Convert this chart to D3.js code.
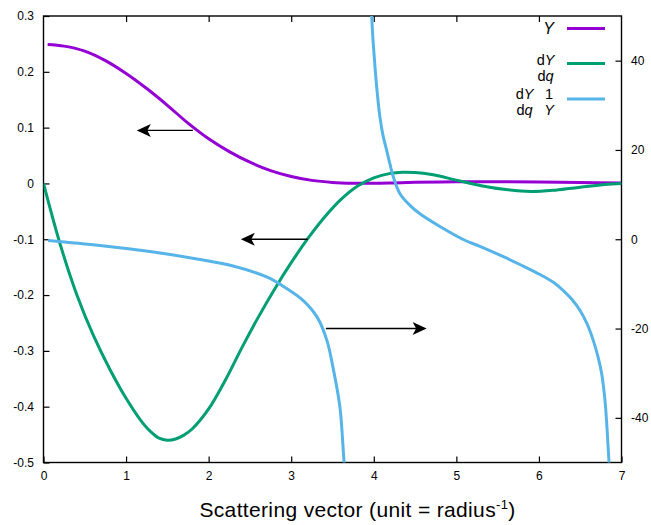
<!DOCTYPE html>
<html><head><meta charset="utf-8">
<script src="https://cdn.jsdelivr.net/npm/d3@7"></script>
<style>
body{margin:0;background:#fff;}
svg{display:block;font-family:"Liberation Sans",Arial,Helvetica,sans-serif;}
</style></head>
<body><svg id="c" width="651" height="525"></svg>
<script>
// ---- data ----
const yQ   = [0.05,0.25,0.5,0.75,1.0,1.25,1.5,1.75,2.0,2.25,2.5,2.75,3.0,3.25,3.5,3.75,4.0,4.25,4.5,5.0,5.5,6.0,6.5,7.0];
const yVal = [0.249,0.246,0.237,0.220,0.197,0.170,0.140,0.108,0.080,0.057,0.038,0.023,0.0125,0.0055,0.0018,0.0003,0.0002,0.001,0.002,0.003,0.003,0.0025,0.0015,0.001];

const dQ   = [0,0.2,0.4,0.6,0.8,1.0,1.2,1.3,1.4,1.5,1.6,1.7,1.8,2.0,2.2,2.4,2.6,2.8,3.0,3.2,3.4,3.6,3.8,4.0,4.2,4.35,4.5,4.7,5.0,5.3,5.6,5.9,6.2,6.5,6.8,7.0];
const dVal = [0,-0.108,-0.198,-0.271,-0.332,-0.385,-0.429,-0.445,-0.4565,-0.460,-0.4578,-0.451,-0.440,-0.404,-0.353,-0.295,-0.240,-0.189,-0.142,-0.099,-0.061,-0.029,-0.005,0.010,0.018,0.020,0.0195,0.016,0.006,-0.004,-0.011,-0.0145,-0.012,-0.007,-0.002,0.0];

// dY/dq * 1/Y (right axis), two branches
const rQ1   = [0.055,0.684,1.29,1.895,2.295,2.71,2.95,3.143,3.316,3.433,3.506,3.59,3.639,3.663];
const rVal1 = [-0.28,-1.4,-2.74,-4.54,-6.0,-8.5,-11.1,-13.7,-17.5,-22.7,-28.7,-37.6,-49.5,-54];
const rQ2   = [3.97,3.975,3.991,4.015,4.045,4.075,4.112,4.156,4.196,4.236,4.317,4.438,4.559,4.801,5.084,5.286,5.569,5.77,6.013,6.195,6.295,6.401,6.498,6.582,6.659,6.715,6.76,6.8,6.821,6.837,6.849,6.855];
const rVal2 = [52,49.9,44.5,38.5,32.2,27.3,23.2,19.9,16.8,14.0,10.2,7.6,5.7,2.85,-0.06,-1.6,-3.9,-5.66,-7.9,-9.9,-11.5,-13.5,-15.96,-18.9,-22.7,-26.3,-30.1,-36.1,-41.3,-46.2,-50,-51.9];

const xTicks  = [0,1,2,3,4,5,6,7];
const yTicks  = [-0.5,-0.4,-0.3,-0.2,-0.1,0,0.1,0.2,0.3];
const y2Ticks = [-40,-20,0,20,40];

// arrows: [x1,y1,x2,y2,axis]
const arrows = [[1.81,0.095,1.13,0.095,"L"],[3.20,-0.1,2.39,-0.1,"L"],[3.42,-20,4.64,-20,"R"]];

const colors = {Y:"#9400d3", dY:"#009e73", r:"#56b4e9"};

// ---- scales ----
const L=43.5,R=621.5,T=16,B=462.5;
const x  = d3.scaleLinear().domain([0,7]).range([L,R]);
const y  = d3.scaleLinear().domain([-0.5,0.3]).range([B,T]);
const y2 = d3.scaleLinear().domain([-50,50]).range([B,T]);

const svg = d3.select("#c");
svg.append("defs").append("clipPath").attr("id","clip")
  .append("rect").attr("x",L).attr("y",T).attr("width",R-L).attr("height",B-T);

const fmtL = v => (Math.abs(v)<1e-9 ? "0" : (v<0?"-":"") + Math.abs(v).toFixed(1));
const fmtR = v => (v<0?"-":"") + Math.abs(v);

function styleAxis(g){ g.select(".domain").remove(); g.selectAll("line").attr("stroke","#000").attr("stroke-width",1.2);
  g.selectAll("text").attr("fill","#000").style("font-size","12px").style("font-family","'Liberation Sans',Arial,sans-serif"); }

svg.append("g").attr("transform",`translate(${L},0)`)
  .call(d3.axisLeft(y).tickValues(yTicks).tickFormat(fmtL).tickSize(-6).tickPadding(9.5)).call(styleAxis);
svg.append("g").attr("transform",`translate(${R},0)`)
  .call(d3.axisRight(y2).tickValues(y2Ticks).tickFormat(fmtR).tickSize(-6).tickPadding(9.5)).call(styleAxis);
svg.append("g").attr("transform",`translate(0,${B})`)
  .call(d3.axisBottom(x).tickValues(xTicks).tickFormat(d3.format("d")).tickSize(-6).tickPadding(9)).call(styleAxis);
svg.append("g").attr("transform",`translate(0,${T})`)
  .call(d3.axisTop(x).tickValues(xTicks.slice(1,-1)).tickFormat("").tickSize(-6)).call(styleAxis);

// frame
svg.append("rect").attr("x",L).attr("y",T).attr("width",R-L).attr("height",B-T)
  .attr("fill","none").attr("stroke","#000").attr("stroke-width",1.4);

// curves
const plot = svg.append("g").attr("clip-path","url(#clip)");
const cur = d3.curveCatmullRom.alpha(0.5);
const lineL = d3.line().x(d=>x(d[0])).y(d=>y(d[1])).curve(cur);
const lineR = d3.line().x(d=>x(d[0])).y(d=>y2(d[1])).curve(cur);
const zip = (a,b)=>a.map((v,i)=>[v,b[i]]);
plot.append("path").attr("d",lineL(zip(yQ,yVal))).attr("fill","none").attr("stroke",colors.Y).attr("stroke-width",3);
plot.append("path").attr("d",lineL(zip(dQ,dVal))).attr("fill","none").attr("stroke",colors.dY).attr("stroke-width",3);
plot.append("path").attr("d",lineR(zip(rQ1,rVal1))).attr("fill","none").attr("stroke",colors.r).attr("stroke-width",3);
plot.append("path").attr("d",lineR(zip(rQ2,rVal2))).attr("fill","none").attr("stroke",colors.r).attr("stroke-width",3);

// arrows
arrows.forEach(a=>{
  const sy = a[4]==="L"?y:y2;
  const x1=x(a[0]),y1=sy(a[1]),x2=x(a[2]),y2p=sy(a[3]);
  const dir = Math.sign(x2-x1);
  svg.append("line").attr("x1",x1).attr("y1",y1).attr("x2",x2-dir*10).attr("y2",y2p).attr("stroke","#000").attr("stroke-width",1.4);
  const hl=14, hw=6.5, notch=10.5;
  svg.append("path").attr("d",`M${x2},${y2p} L${x2-dir*hl},${y2p-hw} L${x2-dir*notch},${y2p} L${x2-dir*hl},${y2p+hw} Z`).attr("fill","#000");
});

// legend
const lg = svg.append("g").style("font-family","'Liberation Sans',Arial,sans-serif").attr("fill","#000");
const lx1=567, lx2=605;
[[28.5,colors.Y],[63.5,colors.dY],[99,colors.r]].forEach(d=>{
  lg.append("line").attr("x1",lx1).attr("x2",lx2).attr("y1",d[0]).attr("y2",d[0]).attr("stroke",d[1]).attr("stroke-width",3);
});
lg.append("text").attr("x",554).attr("y",34).attr("text-anchor","end").style("font-size","16px").style("font-style","italic").text("Y");
// stacked fractions (numerator / denominator)
function frac(cx, yNum, yDen, num, den){
  const t1 = lg.append("text").attr("x",cx).attr("y",yNum).attr("text-anchor","middle").style("font-size","14.5px");
  num.forEach(p=>t1.append("tspan").style("font-style",p[1]?"italic":"normal").text(p[0]));
  const t2 = lg.append("text").attr("x",cx).attr("y",yDen).attr("text-anchor","middle").style("font-size","14.5px");
  den.forEach(p=>t2.append("tspan").style("font-style",p[1]?"italic":"normal").text(p[0]));
}
frac(545.5,64.5,80.5,[["d",0],["Y",1]],[["d",0],["q",1]]);
frac(524.5,99,115,[["d",0],["Y",1]],[["d",0],["q",1]]);
frac(549,99,115,[["1",0]],[["Y",1]]);

// x label
const xl = svg.append("text").attr("x",357.5).attr("y",517).attr("text-anchor","middle").attr("fill","#000")
  .style("font-size","21px").style("letter-spacing","0.35px");
xl.append("tspan").text("Scattering vector (unit = radius");
xl.append("tspan").attr("dy",-8).style("font-size","13px").text("-1");
xl.append("tspan").attr("dy",8).text(")");
</script></body></html>
